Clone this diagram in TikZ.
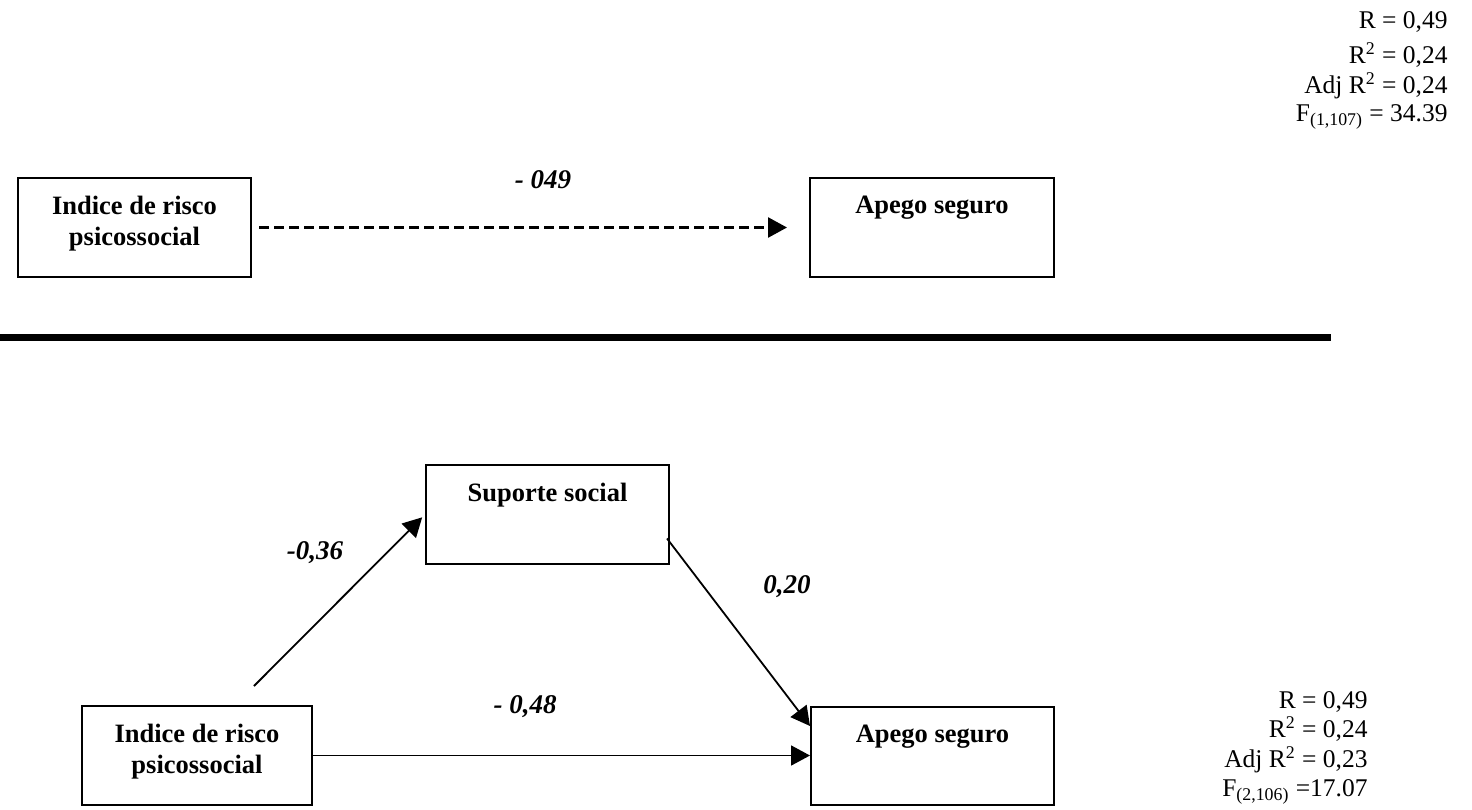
\documentclass[tikz,border=0pt]{standalone}
\usepackage{fontspec}
\setmainfont{Liberation Serif}
\usetikzlibrary{arrows.meta,calc}
\begin{document}
\begin{tikzpicture}[x=0.5pt,y=-0.5pt,
  box/.style={draw,line width=1pt,rectangle,inner sep=0pt,minimum height=49.5pt},
  lbl/.style={font=\bfseries\fontsize{13.25pt}{15.5pt}\selectfont,align=center,inner sep=0pt},
  coef/.style={font=\bfseries\itshape\fontsize{13.5pt}{15.5pt}\selectfont,inner sep=0pt},
  stat/.style={font=\fontsize{12.75pt}{15pt}\selectfont,inner sep=0pt,anchor=base east},
  link/.style={line width=0.9pt,-{Triangle[length=9.5pt,width=10pt]}},
  dlink/.style={link,line width=1.3pt,dash pattern=on 5pt off 2.5pt}]
\useasboundingbox (0,0) rectangle (1472,809);

% --- upper model: total effect ---
\node[box,minimum width=116.5pt] (risk1) at (134.5,227.5) {};
\node[lbl,anchor=north] (risk1t) at ($(risk1.north)+(0,19)$) {Indice de risco\\psicossocial};
\node[box,minimum width=122pt] (apego1) at (932,227.5) {};
\node[lbl,anchor=base] (apego1t) at ($(apego1.north)+(0,36)$) {Apego seguro};
\draw[dlink,shorten <=3.5pt,shorten >=11pt] (risk1.east) -- (apego1.west);
\node[coef] (c0) at (543,180) {- 049};

\node[stat] (s1a) at (1448,28) {R = 0,49};
\node[stat] (s1b) at (1448,63) {R\textsuperscript{2} = 0,24};
\node[stat] (s1c) at (1448,93) {Adj R\textsuperscript{2} = 0,24};
\node[stat] (s1d) at (1448,121) {F\textsubscript{(1,107)} = 34.39};

% --- separator ---
\coordinate (sepL) at (0,337.5);
\coordinate (sepR) at (1331,337.5);
\draw[line width=3.5pt] (sepL) -- (sepR);

% --- lower model: mediation ---
\node[box,minimum width=121.5pt] (sup) at (547.5,514.5) {};
\node[lbl,anchor=base] (supt) at ($(sup.north)+(0,37)$) {Suporte social};
\node[box,minimum width=115pt] (risk2) at (197,755.5) {};
\node[lbl,anchor=north] (risk2t) at ($(risk2.north)+(0,19)$) {Indice de risco\\psicossocial};
\node[box,minimum width=121.5pt,minimum height=49pt] (apego2) at (932.5,756) {};
\node[lbl,anchor=base] (apego2t) at ($(apego2.north)+(0,36)$) {Apego seguro};

\coordinate (a1) at ($(risk2.north)+(57,-19)$);
\draw[link,shorten >=2pt] (a1) -- (sup.west);
\coordinate (a2) at ($(sup.east)+(-3,24)$);
\coordinate (b2) at ($(apego2.north west)+(0,20)$);
\draw[link] (a2) -- (b2);
\draw[link] (risk2.east) -- (risk2.east -| apego2.west);

\node[coef] (c1) at (315,553) {-0,36};
\node[coef] (c2) at (787,587) {0,20};
\node[coef] (c3) at (525,707) {- 0,48};

\node[stat] (s2a) at (1368,708) {R = 0,49};
\node[stat] (s2b) at (1368,737) {R\textsuperscript{2} = 0,24};
\node[stat] (s2c) at (1368,767) {Adj R\textsuperscript{2} = 0,23};
\node[stat] (s2d) at (1368,796) {F\textsubscript{(2,106)} =17.07};
\end{tikzpicture}
\end{document}
